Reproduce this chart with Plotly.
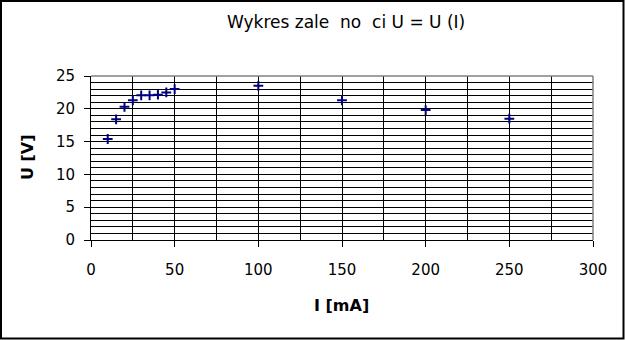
import plotly.graph_objects as go

current_mA = [10, 15, 20, 25, 30, 35, 40, 45, 50, 100, 150, 200, 250]
voltage_V = [15.4, 18.4, 20.3, 21.3, 22.05, 22.05, 22.15, 22.5, 23.0, 23.5, 21.3, 19.8, 18.5]

title_text = "Wykres zale\u00a0 no\u00a0 ci U = U (I)"
x_title = "I [mA]"
y_title = "U [V]"

W, H = 625, 340
L, R, T, B = 91, 593, 76, 240
pw, ph = R - L, B - T

def px(xp):
    return (xp - L) / pw

def py(yp):
    return (B - yp) / ph

font = "DejaVu Sans, Liberation Sans, Arial, sans-serif"

fig = go.Figure()
fig.add_trace(go.Scatter(
    x=current_mA, y=voltage_V, mode="markers",
    marker=dict(symbol="cross-thin", size=7, color="#000080",
                line=dict(color="#000080", width=2)),
    showlegend=False, cliponaxis=False,
))

fig.update_layout(
    width=W, height=H,
    margin=dict(l=L, r=W - R, t=T, b=H - B),
    paper_bgcolor="white", plot_bgcolor="white",
    font=dict(family=font, size=14, color="black"),
    xaxis=dict(
        range=[0, 300], dtick=50, tick0=0,
        showline=True, linecolor="black", linewidth=1,
        ticks="outside", ticklen=6, tickcolor="black", tickwidth=1,
        showgrid=True, gridcolor="black", gridwidth=1,
        minor=dict(dtick=25, showgrid=True, gridcolor="black", gridwidth=1),
        zeroline=False, ticklabelstandoff=10,
        tickfont=dict(family=font, size=15, color="black"),
    ),
    yaxis=dict(
        range=[0, 25], dtick=5, tick0=0,
        showline=True, linecolor="black", linewidth=1,
        ticks="outside", ticklen=6, tickcolor="black", tickwidth=1,
        showgrid=True, gridcolor="black", gridwidth=1,
        minor=dict(dtick=1, showgrid=True, gridcolor="black", gridwidth=1),
        zeroline=False, ticklabelstandoff=6,
        tickfont=dict(family=font, size=15, color="black"),
    ),
    shapes=[
        dict(type="line", xref="paper", yref="paper", x0=0, x1=1, y0=1, y1=1,
             line=dict(color="#808080", width=1.5)),
        dict(type="line", xref="paper", yref="paper", x0=1, x1=1, y0=0, y1=1,
             line=dict(color="#808080", width=1.5)),
        dict(type="rect", xref="paper", yref="paper",
             x0=px(1), x1=px(623.5), y0=py(1), y1=py(338.5),
             line=dict(color="black", width=2)),
    ],
    annotations=[
        dict(text=title_text, xref="paper", yref="paper", x=px(346), y=py(22),
             showarrow=False, xanchor="center", yanchor="middle",
             font=dict(family=font, size=17, color="black")),
        dict(text="<b>" + x_title + "</b>", xref="paper", yref="paper",
             x=px(341), y=py(305), showarrow=False, xanchor="center", yanchor="middle",
             font=dict(family=font, size=16, color="black")),
        dict(text="<b>" + y_title + "</b>", xref="paper", yref="paper",
             x=px(27), y=py(157), showarrow=False, xanchor="center", yanchor="middle",
             textangle=-90, font=dict(family=font, size=16, color="black")),
    ],
)

fig.write_html("out.html")
